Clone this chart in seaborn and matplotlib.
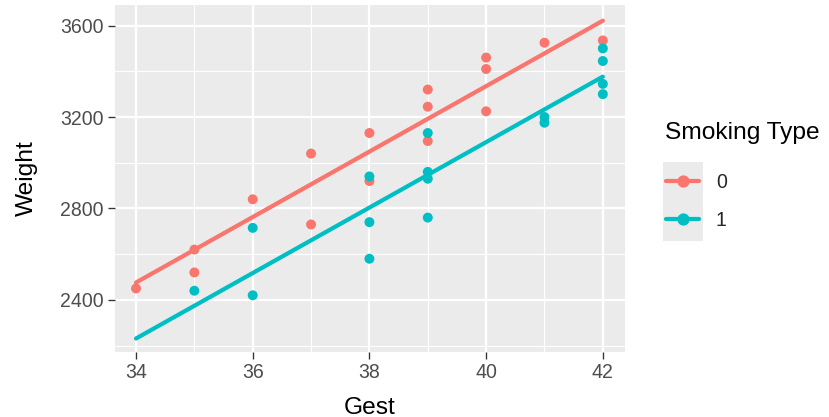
import numpy as np
import pandas as pd
import matplotlib.pyplot as plt
import seaborn as sns
from matplotlib.lines import Line2D
from matplotlib.patches import Rectangle
from matplotlib.ticker import MultipleLocator

# data
gest_0 = [34, 35, 35, 36, 37, 37, 38, 38, 39, 39, 39, 40, 40, 40, 41, 42]
weight_0 = [2450, 2620, 2520, 2840, 3040, 2730, 3130, 2920, 3320, 3245, 3095,
            3460, 3410, 3225, 3525, 3535]
gest_1 = [35, 36, 36, 38, 38, 38, 39, 39, 39, 39, 41, 41, 42, 42, 42, 42]
weight_1 = [2440, 2715, 2420, 2940, 2740, 2580, 3130, 2960, 2930, 2760,
            3200, 3175, 3500, 3445, 3345, 3300]
smoke_levels = ['0', '1']
colors = ['#F8766D', '#00BFC4']

df = pd.DataFrame({
    'Gest': gest_0 + gest_1,
    'Weight': weight_0 + weight_1,
    'Smoking': ['0'] * len(gest_0) + ['1'] * len(gest_1),
})

# parallel slopes model: Weight ~ Gest + Smoking
X = np.column_stack([np.ones(len(df)), df['Gest'], (df['Smoking'] == '1').astype(float)])
coef = np.linalg.lstsq(X, df['Weight'].to_numpy(float), rcond=None)[0]
xr = np.array([df['Gest'].min(), df['Gest'].max()])
fit = pd.DataFrame({
    'Gest': np.concatenate([xr, xr]),
    'Weight': np.concatenate([coef[0] + coef[1] * xr, coef[0] + coef[1] * xr + coef[2]]),
    'Smoking': ['0', '0', '1', '1'],
})

sns.set_theme(style='darkgrid')
plt.rcParams['font.family'] = ['Liberation Sans', 'DejaVu Sans']

fig = plt.figure(figsize=(829 / 160, 417 / 160), dpi=160)
ax = fig.add_axes([115 / 829, 1 - 352 / 417, (625 - 115) / 829, (352 - 5) / 417])
ax.set_facecolor('#EBEBEB')

sns.lineplot(data=fit, x='Gest', y='Weight', hue='Smoking', palette=colors,
             hue_order=smoke_levels, lw=1.9, legend=False, ax=ax, zorder=3)
sns.scatterplot(data=df, x='Gest', y='Weight', hue='Smoking', palette=colors,
                hue_order=smoke_levels, s=20, linewidth=0, legend=False, ax=ax, zorder=4)

ax.set_xlim(33.64, 42.38)
ax.set_ylim(2172, 3690)
ax.xaxis.set_major_locator(MultipleLocator(2))
ax.xaxis.set_minor_locator(MultipleLocator(1))
ax.yaxis.set_major_locator(MultipleLocator(400))
ax.yaxis.set_minor_locator(MultipleLocator(200))
ax.grid(which='major', color='white', lw=1.0)
ax.grid(which='minor', color='white', lw=0.5)
for s in ax.spines.values():
    s.set_visible(False)
ax.tick_params(which='major', length=3, width=0.6, color='#333333',
               labelsize=8.8, labelcolor='#4D4D4D', pad=2, bottom=True, left=True)
ax.tick_params(which='minor', length=0)
ax.set_xlabel('Gest', fontsize=11, color='black', labelpad=6.5)
ax.set_ylabel('Weight', fontsize=11, color='black', labelpad=10)

# legend: title as text, keys on a grey panel
fig.text(665 / 829, 1 - 133 / 417, 'Smoking Type', fontsize=11, color='black',
         ha='left', va='center')
fig.patches.append(Rectangle((663 / 829, 1 - 241 / 417), 40 / 829, 79 / 417,
                             transform=fig.transFigure, facecolor='#EBEBEB',
                             edgecolor='none', zorder=0))
handles = [Line2D([], [], color=c, lw=1.9, marker='o', markersize=4.5) for c in colors]
leg = fig.legend(handles, smoke_levels, loc='upper left',
                 bbox_to_anchor=(666 / 829, 1 - 173 / 417), frameon=False,
                 fontsize=8.8, handlelength=1.7, handletextpad=0.85,
                 labelspacing=0.95, borderpad=0, borderaxespad=0)

fig.savefig('out.png', dpi=160)
